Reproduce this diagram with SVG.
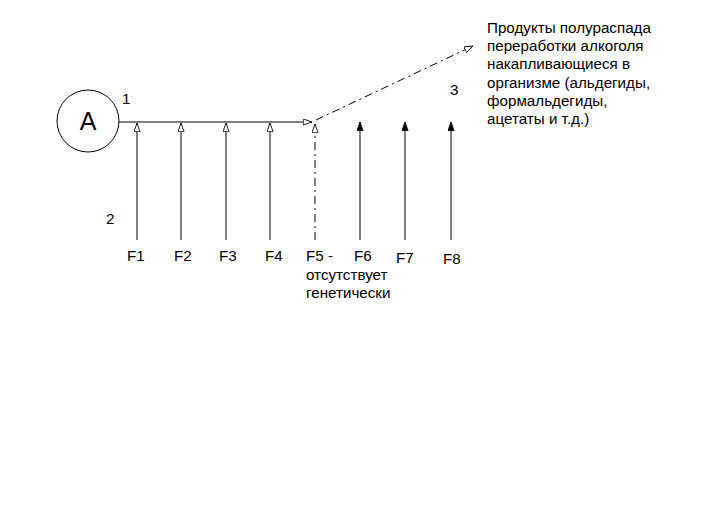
<svg xmlns="http://www.w3.org/2000/svg" width="716" height="520" viewBox="0 0 716 520">
<style>
text{font-family:"Liberation Sans",Arial,sans-serif;font-size:15.2px;fill:#000}
.ln{stroke:#000;stroke-width:1;fill:none}
.dd{stroke:#000;stroke-width:1;fill:none;stroke-dasharray:8 4 2 4}
</style>
<defs>
<marker id="open" viewBox="0 0 10 8" refX="10" refY="4" markerWidth="9" markerHeight="7" markerUnits="userSpaceOnUse" orient="auto">
<path d="M0,0.5 L10,4 L0,7.5 Z" fill="#fff" stroke="#000" stroke-width="1"/>
</marker>
<marker id="fill" viewBox="0 0 10 8" refX="10" refY="4" markerWidth="9" markerHeight="7" markerUnits="userSpaceOnUse" orient="auto">
<path d="M0,0.5 L10,4 L0,7.5 Z" fill="#000" stroke="#000" stroke-width="1"/>
</marker>
</defs>
<rect width="716" height="520" fill="#fff"/>
<g id="nodeA">
<circle cx="88" cy="121" r="31" fill="#fff" stroke="#000" stroke-width="1"/>
<text x="88" y="130" text-anchor="middle" style="font-size:25px">A</text>
</g>
<g id="connectors">
<line class="ln" x1="119" y1="122" x2="312" y2="122" marker-end="url(#open)"/>
<line class="ln" x1="137" y1="240" x2="137" y2="123" marker-end="url(#open)"/>
<line class="ln" x1="181" y1="240" x2="181" y2="123" marker-end="url(#open)"/>
<line class="ln" x1="226" y1="240" x2="226" y2="123" marker-end="url(#open)"/>
<line class="ln" x1="270" y1="240" x2="270" y2="123" marker-end="url(#open)"/>
<line class="dd" x1="315" y1="240" x2="315" y2="124" marker-end="url(#open)"/>
<line class="ln" x1="360" y1="240" x2="360" y2="122" marker-end="url(#fill)"/>
<line class="ln" x1="405" y1="240" x2="405" y2="122" marker-end="url(#fill)"/>
<line class="ln" x1="451" y1="240" x2="451" y2="122" marker-end="url(#fill)"/>
<line class="dd" x1="316" y1="120" x2="473" y2="46" marker-end="url(#open)"/>
</g>
<g id="labels">
<text x="122" y="104">1</text>
<text x="106" y="224">2</text>
<text x="450" y="95">3</text>
<text x="127" y="261">F1</text>
<text x="174" y="261">F2</text>
<text x="219" y="261">F3</text>
<text x="265" y="261">F4</text>
<text x="306" y="261">F5 -</text>
<text x="354" y="261">F6</text>
<text x="396" y="263">F7</text>
<text x="443" y="264">F8</text>
<text x="306" y="280">отсутствует</text>
<text x="306" y="298">генетически</text>
</g>
<g id="note">
<text x="487" y="33">Продукты полураспада</text>
<text x="487" y="51">переработки алкоголя</text>
<text x="487" y="69">накапливающиеся в</text>
<text x="487" y="88">организме (альдегиды,</text>
<text x="487" y="106">формальдегиды,</text>
<text x="487" y="124">ацетаты и т.д.)</text>
</g>
</svg>
